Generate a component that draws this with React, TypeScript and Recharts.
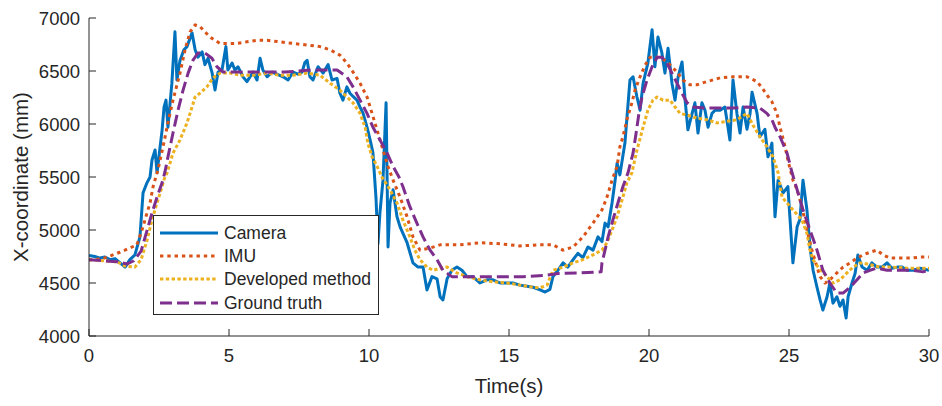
import React from 'react';
import { LineChart, Line, XAxis, YAxis, Legend } from 'recharts';

// [time (s), x-coordinate (mm)]
const cameraSamples: [number, number][] = [
  [0, 4760], [0.21, 4750], [0.39, 4735], [0.57, 4745], [0.75, 4720], [0.93, 4730], [1.11, 4690], [1.29, 4650],
  [1.46, 4720], [1.64, 4765], [1.82, 4935], [1.93, 5350], [2.07, 5445], [2.18, 5500], [2.25, 5660], [2.36, 5755],
  [2.43, 5540], [2.54, 5785], [2.61, 5940], [2.68, 6160], [2.75, 6225], [2.82, 5970], [2.96, 6385], [3.07, 6870],
  [3.14, 6415], [3.25, 6600], [3.39, 6700], [3.5, 6730], [3.68, 6860], [3.79, 6700], [3.89, 6630], [4.04, 6680],
  [4.14, 6560], [4.25, 6620], [4.39, 6490], [4.5, 6320], [4.61, 6490], [4.75, 6510], [4.89, 6730], [4.96, 6510],
  [5.11, 6575], [5.21, 6510], [5.32, 6540], [5.5, 6445], [5.64, 6400], [5.75, 6445], [5.86, 6490], [6.0, 6415],
  [6.11, 6620], [6.21, 6510], [6.36, 6445], [6.54, 6490], [6.71, 6470], [6.93, 6445], [7.11, 6415], [7.29, 6490],
  [7.46, 6470], [7.61, 6490], [7.71, 6580], [7.79, 6600], [7.89, 6445], [8.0, 6415], [8.18, 6540], [8.36, 6480],
  [8.54, 6560], [8.68, 6415], [8.86, 6430], [8.96, 6290], [9.07, 6225], [9.21, 6350], [9.32, 6290], [9.43, 6260],
  [9.57, 6225], [9.68, 6160], [9.79, 6100], [9.93, 5970], [10.04, 5850], [10.14, 5730], [10.25, 5300], [10.32, 4870],
  [10.39, 5160], [10.5, 5470], [10.61, 6200], [10.68, 4840], [10.75, 5255], [10.86, 5380], [11.0, 5125], [11.11, 5030],
  [11.36, 4880], [11.57, 4690], [11.75, 4650], [11.93, 4650], [12.07, 4435], [12.25, 4560], [12.43, 4540], [12.54, 4370],
  [12.64, 4340], [12.79, 4540], [12.96, 4620], [13.14, 4650], [13.32, 4620], [13.5, 4560], [13.71, 4560], [13.96, 4500],
  [14.21, 4530], [14.43, 4530], [14.68, 4500], [14.93, 4500], [15.14, 4500], [15.39, 4480], [15.64, 4470], [15.86, 4460],
  [16.11, 4435], [16.29, 4415], [16.46, 4440], [16.57, 4560], [16.75, 4620], [16.93, 4690], [17.1, 4650], [17.29, 4720],
  [17.46, 4780], [17.64, 4740], [17.82, 4840], [18.0, 4810], [18.18, 4935], [18.32, 4890], [18.43, 5065], [18.54, 5030],
  [18.68, 5255], [18.79, 5470], [18.86, 5630], [18.96, 5520], [19.14, 5820], [19.32, 6415], [19.43, 6445], [19.57, 6255],
  [19.68, 6130], [19.79, 6385], [19.96, 6575], [20.11, 6890], [20.21, 6540], [20.32, 6820], [20.46, 6670], [20.57, 6480],
  [20.68, 6715], [20.82, 6385], [20.93, 6225], [21.04, 6445], [21.18, 6585], [21.29, 6225], [21.39, 5945], [21.54, 6100],
  [21.64, 6200], [21.75, 5915], [21.89, 6200], [22.0, 6130], [22.11, 5970], [22.25, 6100], [22.36, 6130], [22.54, 6130],
  [22.71, 6160], [22.89, 5850], [23.0, 6415], [23.14, 6100], [23.25, 5915], [23.36, 6160], [23.5, 5950], [23.61, 6100],
  [23.68, 6300], [23.86, 6100], [23.96, 5880], [24.14, 5950], [24.25, 5690], [24.39, 5820], [24.5, 5125], [24.61, 5470],
  [24.79, 5350], [24.96, 5410], [25.14, 4690], [25.29, 5030], [25.39, 5100], [25.5, 5470], [25.64, 5190], [25.75, 4840],
  [25.86, 4620], [26.0, 4460], [26.11, 4340], [26.21, 4245], [26.36, 4370], [26.46, 4500], [26.57, 4310], [26.71, 4370],
  [26.82, 4280], [26.93, 4340], [27.04, 4170], [27.11, 4370], [27.25, 4500], [27.36, 4590], [27.46, 4765], [27.61, 4650],
  [27.79, 4620], [27.96, 4690], [28.14, 4650], [28.32, 4650], [28.5, 4690], [28.68, 4640], [28.86, 4650], [29.04, 4650],
  [29.21, 4620], [29.43, 4620], [29.68, 4640], [30, 4620],
];

const imuSamples: [number, number][] = [
  [0, 4720], [0.5, 4730], [1.1, 4790], [1.46, 4830], [1.71, 4860], [1.93, 5030], [2.07, 5160], [2.18, 5255],
  [2.29, 5410], [2.46, 5565], [2.64, 5780], [2.82, 6010], [3.0, 6225], [3.25, 6480], [3.43, 6700], [3.61, 6870],
  [3.79, 6935], [3.96, 6920], [4.14, 6870], [4.32, 6820], [4.5, 6790], [4.68, 6760], [4.93, 6760], [5.29, 6760],
  [5.64, 6775], [6.0, 6790], [6.36, 6790], [6.82, 6775], [7.29, 6760], [7.79, 6745], [8.25, 6730], [8.61, 6700],
  [8.96, 6650], [9.21, 6575], [9.43, 6490], [9.68, 6385], [9.93, 6255], [10.11, 6100], [10.32, 5915], [10.5, 5755],
  [10.68, 5600], [10.86, 5470], [11.11, 5310], [11.36, 5125], [11.57, 4935], [11.82, 4810], [12.18, 4830], [12.54, 4860],
  [13.25, 4860], [13.96, 4880], [14.68, 4870], [15.39, 4850], [16.11, 4860], [16.57, 4860], [16.93, 4810], [17.29, 4840],
  [17.64, 4935], [18.0, 5065], [18.32, 5190], [18.5, 5310], [18.68, 5470], [18.86, 5600], [18.96, 5785], [19.07, 5880],
  [19.21, 6040], [19.39, 6200], [19.5, 6320], [19.68, 6445], [19.86, 6555], [20.04, 6630], [20.29, 6630], [20.46, 6620],
  [20.64, 6585], [20.82, 6540], [21.0, 6490], [21.21, 6415], [21.46, 6370], [21.71, 6370], [22.07, 6400], [22.54, 6435],
  [23.0, 6445], [23.5, 6445], [23.86, 6400], [24.04, 6340], [24.21, 6275], [24.39, 6210], [24.57, 6100], [24.68, 5970],
  [24.86, 5785], [24.96, 5660], [25.14, 5470], [25.29, 5380], [25.46, 5220], [25.64, 5000], [25.82, 4810], [26.0, 4650],
  [26.11, 4560], [26.29, 4500], [26.46, 4530], [26.71, 4595], [26.93, 4650], [27.18, 4690], [27.43, 4735], [27.64, 4765],
  [27.89, 4790], [28.14, 4810], [28.36, 4765], [28.61, 4735], [29.0, 4735], [29.36, 4735], [29.71, 4745], [30, 4745],
];

const developedSamples: [number, number][] = [
  [0, 4720], [0.5, 4710], [1.0, 4700], [1.3, 4660], [1.64, 4650], [1.86, 4720], [2.07, 4900], [2.25, 5095],
  [2.43, 5255], [2.61, 5410], [2.71, 5500], [2.79, 5540], [3.0, 5725], [3.25, 5850], [3.5, 6010], [3.68, 6160],
  [3.79, 6255], [3.96, 6290], [4.21, 6350], [4.43, 6435], [4.68, 6480], [5.04, 6480], [5.39, 6460], [5.86, 6460],
  [6.36, 6480], [6.82, 6460], [7.29, 6460], [7.79, 6480], [8.25, 6460], [8.61, 6385], [8.96, 6320], [9.21, 6255],
  [9.43, 6200], [9.68, 6100], [9.86, 5970], [9.96, 5820], [10.11, 5690], [10.29, 5600], [10.46, 5500], [10.75, 5380],
  [11.0, 5255], [11.21, 5095], [11.46, 4935], [11.64, 4810], [11.82, 4720], [12.07, 4650], [12.29, 4620], [12.54, 4640],
  [12.79, 4650], [13.14, 4595], [13.5, 4560], [13.96, 4530], [14.43, 4510], [14.93, 4500], [15.39, 4480], [15.86, 4460],
  [16.11, 4455], [16.36, 4480], [16.57, 4620], [16.93, 4650], [17.29, 4690], [17.64, 4720], [18.0, 4765], [18.32, 4810],
  [18.5, 4880], [18.68, 5000], [18.86, 5125], [19.04, 5285], [19.21, 5445], [19.39, 5540], [19.57, 5755], [19.79, 5970],
  [19.96, 6130], [20.14, 6225], [20.29, 6255], [20.5, 6225], [20.75, 6225], [20.93, 6160], [21.11, 6100], [21.36, 6085],
  [21.71, 6055], [22.07, 6040], [22.43, 6010], [22.79, 6025], [23.14, 6040], [23.5, 6100], [23.71, 5990], [23.96, 5880],
  [24.21, 5785], [24.43, 5690], [24.61, 5540], [24.75, 5310], [24.93, 5255], [25.14, 5190], [25.46, 5095], [25.64, 4970],
  [25.75, 4810], [25.86, 4720], [26.04, 4650], [26.36, 4560], [26.57, 4500], [26.82, 4530], [27.07, 4595], [27.29, 4650],
  [27.54, 4690], [27.79, 4680], [28.25, 4650], [28.71, 4650], [29.21, 4640], [29.68, 4640], [30, 4640],
];

const groundTruthSamples: [number, number][] = [
  [0, 4720], [0.5, 4710], [1.0, 4700], [1.36, 4680], [1.6, 4710], [1.86, 4800], [2.25, 5160], [2.43, 5310],
  [2.61, 5445], [2.71, 5545], [2.82, 5690], [3.0, 5915], [3.18, 6130], [3.36, 6320], [3.54, 6480], [3.71, 6600],
  [3.89, 6670], [4.14, 6670], [4.39, 6620], [4.57, 6540], [4.79, 6490], [5.14, 6490], [6.0, 6490], [7.0, 6490],
  [7.96, 6510], [8.86, 6510], [9.21, 6445], [9.43, 6350], [9.68, 6225], [9.93, 6100], [10.14, 5970], [10.39, 5850],
  [10.64, 5730], [10.86, 5600], [11.07, 5500], [11.21, 5410], [11.46, 5220], [11.71, 5065], [11.93, 4935], [12.18, 4810],
  [12.43, 4720], [12.64, 4620], [12.96, 4560], [13.5, 4560], [14.5, 4560], [15.5, 4560], [16.21, 4570], [16.75, 4590],
  [17.5, 4595], [18.29, 4605], [18.32, 4690], [18.43, 4810], [18.54, 4935], [18.71, 5095], [18.89, 5255], [19.07, 5410],
  [19.25, 5540], [19.43, 5725], [19.54, 5915], [19.64, 6100], [19.75, 6255], [19.93, 6415], [20.11, 6540], [20.29, 6630],
  [20.46, 6630], [20.64, 6575], [20.82, 6480], [21.0, 6385], [21.18, 6290], [21.36, 6200], [21.57, 6160], [22.07, 6150],
  [22.54, 6150], [23.0, 6150], [23.5, 6160], [23.96, 6150], [24.21, 6100], [24.39, 6040], [24.5, 5970], [24.68, 5880],
  [24.93, 5725], [25.11, 5540], [25.29, 5380], [25.5, 5190], [25.75, 5000], [26.0, 4810], [26.21, 4620], [26.46, 4500],
  [26.71, 4405], [26.93, 4405], [27.18, 4460], [27.43, 4530], [27.64, 4595], [27.89, 4620], [28.14, 4640], [28.5, 4620],
  [29.43, 4620], [29.79, 4605], [30, 4620],
];

const timeTicks = [0, 5, 10, 15, 20, 25, 30];
const coordTicks = [4000, 4500, 5000, 5500, 6000, 6500, 7000];

const FONT = '"Liberation Sans", Arial, Helvetica, sans-serif';
const INK = '#262626';

const series = [
  { name: 'Camera', samples: cameraSamples, color: '#0072BD', dash: undefined as string | undefined },
  { name: 'IMU', samples: imuSamples, color: '#D95319', dash: '3.4 3.9' },
  { name: 'Developed method', samples: developedSamples, color: '#EDB120', dash: '3.4 2.4' },
  { name: 'Ground truth', samples: groundTruthSamples, color: '#7E2F8E', dash: '12 5' },
];

const toRows = (samples: [number, number][]) => samples.map(([t, v]) => ({ t, v }));

function LegendBox() {
  return (
    <div
      style={{
        width: 226,
        height: 100,
        boxSizing: 'border-box',
        border: `1px solid ${INK}`,
        background: '#fff',
        fontFamily: FONT,
        fontSize: 17.5,
        color: INK,
        paddingTop: 5,
      }}
    >
      {series.map((s) => (
        <div key={s.name} style={{ display: 'flex', alignItems: 'center', height: 23.3, paddingLeft: 6 }}>
          <svg width={58} height={10} style={{ display: 'block' }}>
            <line x1={0} x2={58} y1={5} y2={5} stroke={s.color} strokeWidth={3.2} strokeDasharray={s.dash} />
          </svg>
          <span style={{ marginLeft: 6, lineHeight: '20px', whiteSpace: 'nowrap' }}>{s.name}</span>
        </div>
      ))}
    </div>
  );
}

function YTitle(props: any) {
  const vb = props.viewBox || { x: 0, y: 18, width: 89, height: 318 };
  const cx = vb.x + 20;
  const cy = vb.y + vb.height / 2;
  return (
    <text
      x={cx}
      y={cy}
      transform={`rotate(-90 ${cx} ${cy})`}
      textAnchor="middle"
      dominantBaseline="central"
      fontFamily={FONT}
      fontSize={20.5}
      fill={INK}
    >
      X-coordinate (mm)
    </text>
  );
}

function XTitle(props: any) {
  const vb = props.viewBox || { x: 89, y: 336, width: 840, height: 50 };
  return (
    <text x={vb.x + vb.width / 2} y={vb.y + 57} textAnchor="middle" fontFamily={FONT} fontSize={20.5} fill={INK}>
      Time(s)
    </text>
  );
}

export default function App() {
  return (
    <div style={{ position: 'absolute', left: 0, top: 0, width: 942, height: 406, background: '#fff' }}>
      <LineChart width={942} height={406} margin={{ top: 18, right: 13, bottom: 20, left: 0 }}>
        <XAxis
          dataKey="t"
          type="number"
          domain={[0, 30]}
          ticks={timeTicks}
          interval={0}
          allowDataOverflow
          height={50}
          tickSize={-7}
          tickMargin={20}
          axisLine={{ stroke: INK, strokeWidth: 1 }}
          tickLine={{ stroke: INK, strokeWidth: 1 }}
          tick={{ fill: INK, fontSize: 18.5, fontFamily: FONT }}
          label={<XTitle />}
        />
        <YAxis
          type="number"
          domain={[4000, 7000]}
          ticks={coordTicks}
          interval={0}
          allowDataOverflow
          width={89}
          tickSize={-7}
          tickMargin={16}
          axisLine={{ stroke: INK, strokeWidth: 1 }}
          tickLine={{ stroke: INK, strokeWidth: 1 }}
          tick={{ fill: INK, fontSize: 18.5, fontFamily: FONT }}
          label={<YTitle />}
        />
        <Legend
          layout="vertical"
          align="center"
          verticalAlign="middle"
          wrapperStyle={{ left: 153, top: 215, width: 226, height: 100 }}
          content={() => <LegendBox />}
        />
        {series.map((s) => (
          <Line
            key={s.name}
            data={toRows(s.samples)}
            dataKey="v"
            name={s.name}
            type="linear"
            stroke={s.color}
            strokeWidth={3}
            strokeDasharray={s.dash}
            strokeLinejoin="round"
            dot={false}
            activeDot={false}
            isAnimationActive={false}
          />
        ))}
      </LineChart>
    </div>
  );
}
